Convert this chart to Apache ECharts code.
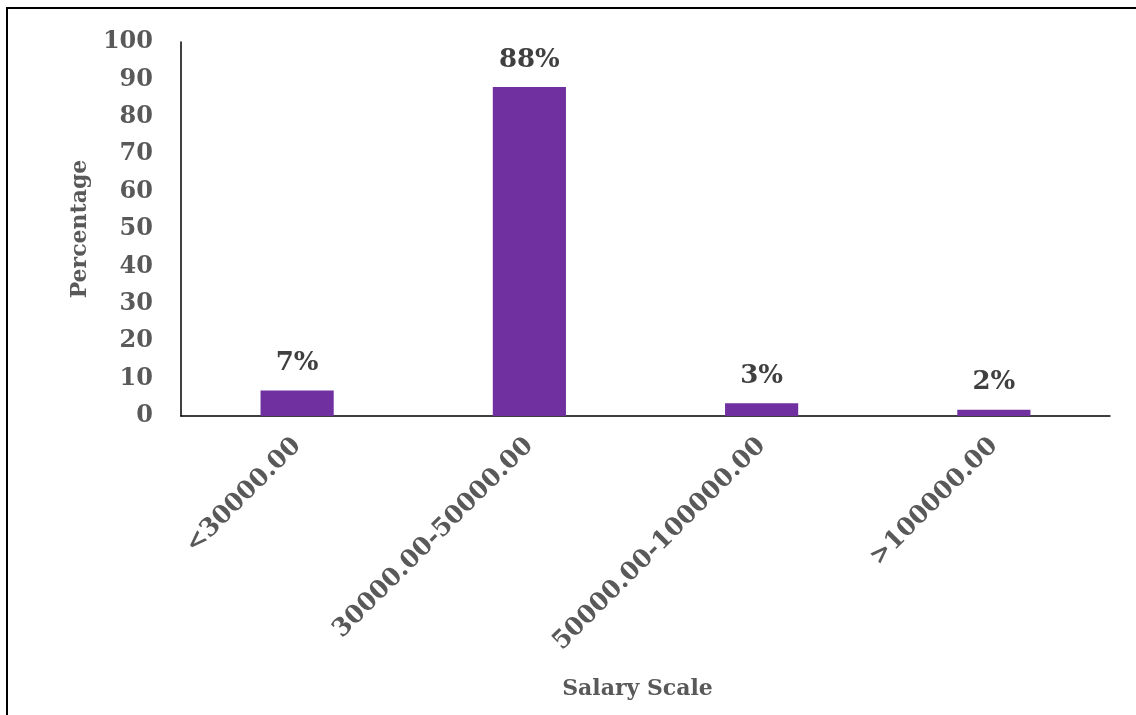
<!DOCTYPE html>
<html>
<head>
<meta charset="utf-8">
<script src="https://cdn.jsdelivr.net/npm/echarts@6/dist/echarts.min.js"></script>
<style>
html,body{margin:0;padding:0;background:#fff;}
#chart{width:1136px;height:715px;}
</style>
</head>
<body>
<div id="chart"></div>
<script>
const categories = ['<30000.00', '30000.00-50000.00', '50000.00-100000.00', '>100000.00'];
const percentages = [6.8, 88.0, 3.4, 1.7];
const yTicks = { min: 0, max: 100, interval: 10 };

const FONT = '"DejaVu Serif", serif';
const chart = echarts.init(document.getElementById('chart'), null, { renderer: 'canvas' });
chart.setOption({
  animation: false,
  backgroundColor: '#ffffff',
  graphic: [{
    type: 'rect',
    shape: { x: 7, y: 8, width: 1200, height: 800 },
    style: { fill: 'none', stroke: '#000', lineWidth: 2 },
    silent: true
  }],
  grid: { left: 181, right: 26, top: 42, bottom: 299, containLabel: false },
  xAxis: {
    type: 'category',
    data: categories,
    name: 'Salary Scale',
    nameLocation: 'middle',
    nameGap: 262,
    nameTextStyle: { fontFamily: FONT, fontWeight: 'bold', fontSize: 22, color: '#595959', padding: [0, 16, 0, 0] },
    axisLine: { lineStyle: { color: '#000', width: 1.5 } },
    axisTick: { show: false },
    axisLabel: { rotate: 45, margin: 26, fontFamily: FONT, fontWeight: 'bold', fontSize: 25, color: '#595959', interval: 0 }
  },
  yAxis: {
    type: 'value',
    min: yTicks.min, max: yTicks.max, interval: yTicks.interval,
    name: 'Percentage',
    nameLocation: 'middle',
    nameGap: 90,
    nameTextStyle: { fontFamily: FONT, fontWeight: 'bold', fontSize: 22, color: '#595959' },
    axisLine: { show: true, lineStyle: { color: '#000', width: 1.5 } },
    axisTick: { show: false },
    splitLine: { show: false },
    axisLabel: { margin: 28, fontFamily: FONT, fontWeight: 'bold', fontSize: 24, color: '#595959' }
  },
  series: [{
    type: 'bar',
    data: percentages,
    barWidth: '31.5%',
    itemStyle: { color: '#7030A0' },
    label: {
      show: true,
      position: 'top',
      distance: 14,
      formatter: p => Math.round(p.value) + '%',
      fontFamily: FONT, fontWeight: 'bold', fontSize: 26, color: '#404040'
    }
  }]
});
</script>
</body>
</html>
